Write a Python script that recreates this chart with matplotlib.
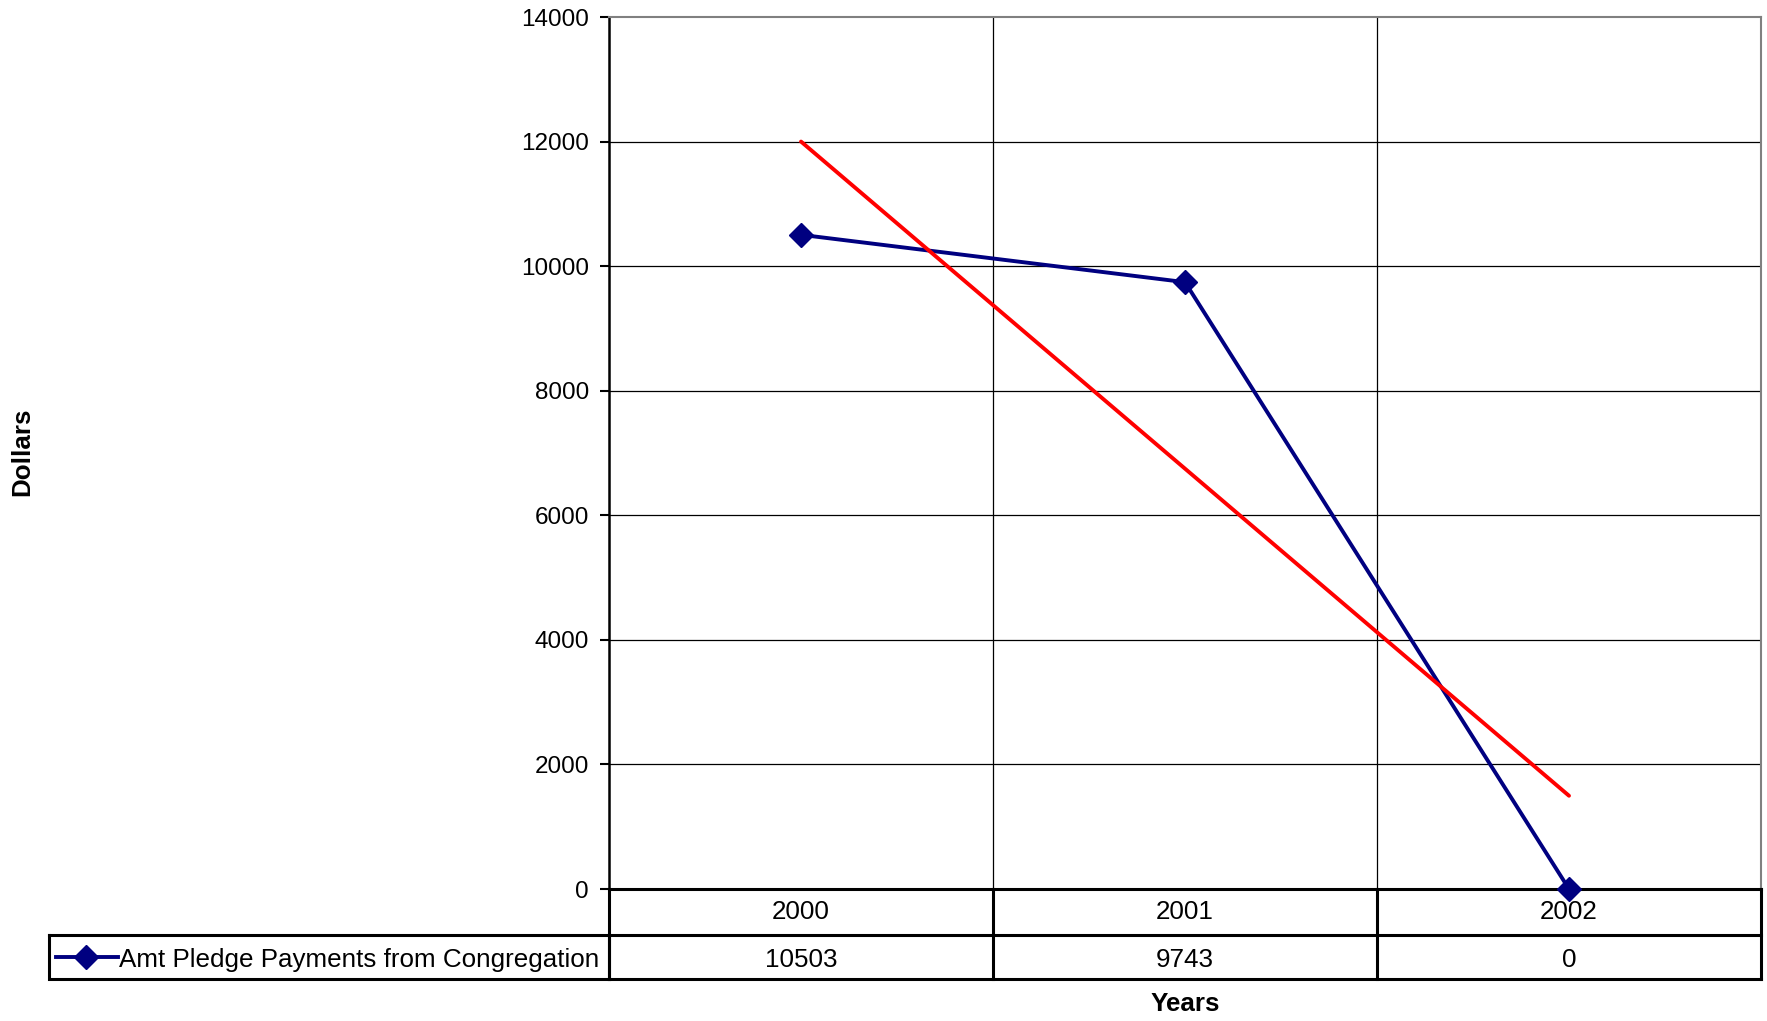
import numpy as np
import matplotlib
matplotlib.use("Agg")
import matplotlib.pyplot as plt
import matplotlib.transforms as mtransforms
from matplotlib.lines import Line2D

plt.rcParams['font.family'] = ['Liberation Sans', 'DejaVu Sans']

years = ["2000", "2001", "2002"]
payments = [10503, 9743, 0]
series_name = "Amt Pledge Payments from Congregation"
y_ticks = [0, 2000, 4000, 6000, 8000, 10000, 12000, 14000]

W, H = 1767, 1021
fig = plt.figure(figsize=(W / 100, H / 100), dpi=100)
fig.patch.set_facecolor('white')

def fx(p):
    return p / W

def fy(p):
    return 1 - p / H

L, R, T, B = 609, 1761, 17, 889
ax = fig.add_axes([fx(L), fy(B), (R - L) / W, (B - T) / H])

x = np.arange(len(years))
navy = '#000080'
tfs = 18.7

# gridlines
for yt in y_ticks[1:-1]:
    ax.axhline(yt, color='black', lw=0.9, zorder=1)
for xb in x[:-1] + 0.5:
    ax.axvline(xb, color='black', lw=0.9, zorder=1)

ax.plot(x, payments, color=navy, lw=2.8, marker='D', markersize=12.5,
        markerfacecolor=navy, markeredgecolor=navy, zorder=3, clip_on=False)

coef = np.polyfit(x, payments, 1)
ax.plot(x, np.polyval(coef, x), color='#ff0000', lw=2.8, zorder=4,
        solid_capstyle='round')

ax.set_xlim(-0.5, len(years) - 0.5)
ax.set_ylim(0, 14000)
ax.set_yticks(y_ticks)
ax.set_yticklabels([str(v) for v in y_ticks], fontsize=17.5)
ax.set_xticks([])
ax.tick_params(axis='y', direction='out', length=6.5, width=1.5, pad=8)

for s in ['top', 'right']:
    ax.spines[s].set_color('#808080')
    ax.spines[s].set_linewidth(1.5)
ax.spines['left'].set_color('black')
ax.spines['left'].set_linewidth(1.8)
ax.spines['bottom'].set_color('black')
ax.spines['bottom'].set_linewidth(2.2)

# data table
blend = mtransforms.blended_transform_factory(ax.transData, fig.transFigure)
row1_bot, row2_bot = 935, 979
leg_left = 48.5
lw_t = 2.2
xl, xr = -0.5, len(years) - 0.5
for yy in [row1_bot, row2_bot]:
    fig.add_artist(Line2D([xl, xr], [fy(yy), fy(yy)], transform=blend,
                          color='black', lw=lw_t, solid_capstyle='projecting'))
for xb in list(x - 0.5) + [xr]:
    fig.add_artist(Line2D([xb, xb], [fy(B), fy(row2_bot)], transform=blend,
                          color='black', lw=lw_t, solid_capstyle='projecting'))
fig.add_artist(Line2D([fx(leg_left), fx(L), fx(L), fx(leg_left), fx(leg_left)],
                      [fy(row1_bot), fy(row1_bot), fy(row2_bot), fy(row2_bot), fy(row1_bot)],
                      transform=fig.transFigure, color='black', lw=lw_t,
                      solid_joinstyle='miter'))
# legend key
ky = fy((row1_bot + row2_bot) / 2)
ty = fy(960)
fig.add_artist(Line2D([fx(56), fx(118)], [ky, ky], transform=fig.transFigure,
                      color=navy, lw=2.8))
fig.add_artist(Line2D([fx(86)], [ky], transform=fig.transFigure, color=navy,
                      marker='D', markersize=12.5, markerfacecolor=navy,
                      markeredgecolor=navy, lw=0))
fig.text(fx(119), ty, series_name, fontsize=tfs, ha='left', va='center')

for i, (yr, val) in enumerate(zip(years, payments)):
    fig.text(i, fy(912), yr, transform=blend, fontsize=tfs,
             ha='center', va='center')
    fig.text(i, ty, str(val), transform=blend, fontsize=tfs,
             ha='center', va='center')

fig.text((L + R) / 2 / W, fy(1004), "Years", fontsize=tfs, fontweight='bold',
         ha='center', va='center')
fig.text(fx(22), fy(452), "Dollars", fontsize=tfs, fontweight='bold',
         rotation=90, ha='center', va='center')

fig.savefig("out.png", dpi=100, facecolor='white')
